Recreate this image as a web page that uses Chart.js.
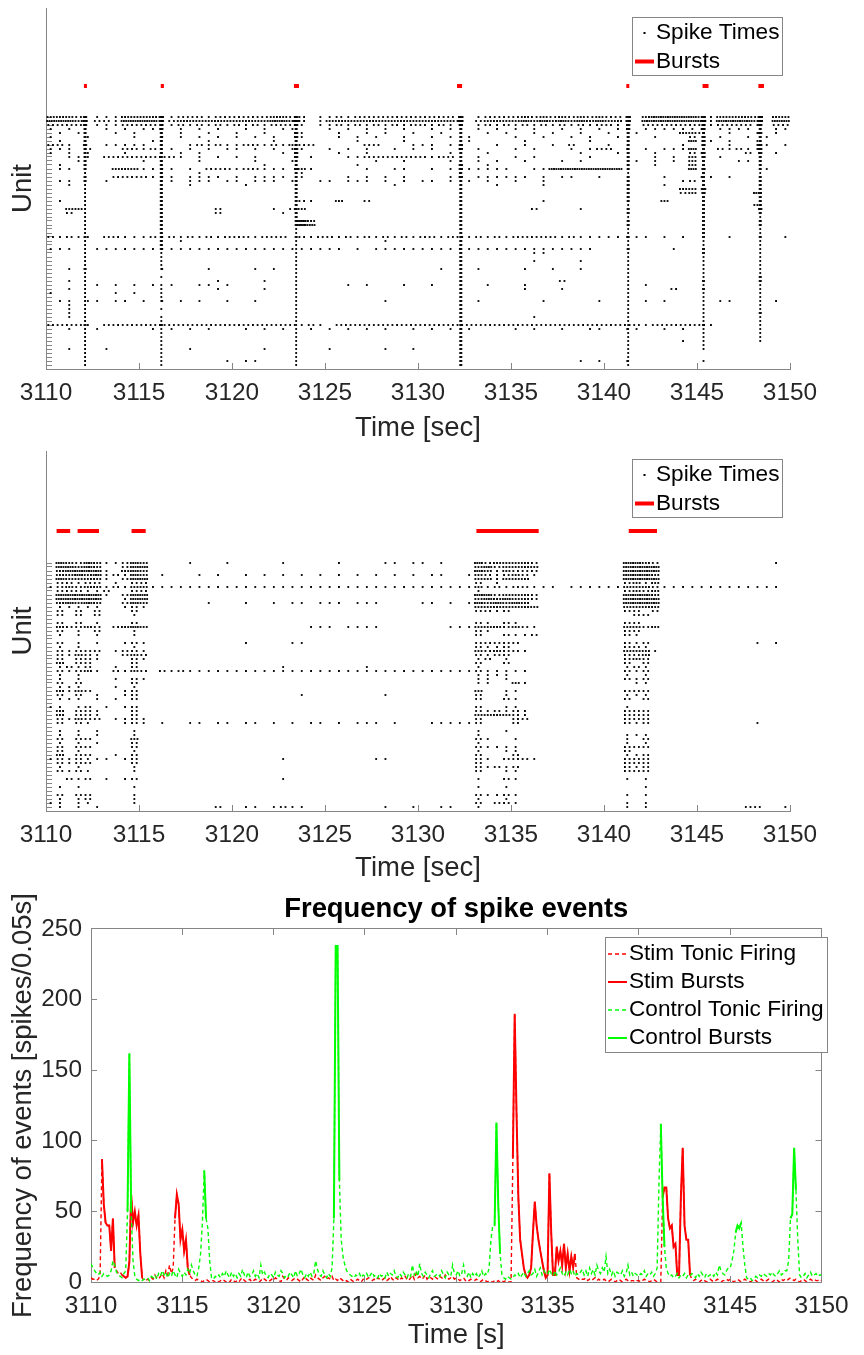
<!DOCTYPE html>
<html>
<head>
<meta charset="utf-8">
<script src="https://cdn.jsdelivr.net/npm/chart.js@4.4.0/dist/chart.umd.min.js"></script>
<style>
  body { margin: 0; background: #fff; }
  canvas { position: absolute; left: 0; }
</style>
</head>
<body>
<canvas id="rasterTop" width="864" height="445" style="top:0"></canvas>
<canvas id="rasterMid" width="864" height="440" style="top:445px"></canvas>
<canvas id="freqChart" width="864" height="470" style="top:885px"></canvas>
<script>
// ---- raster data: one string per unit (top row first), spike counts per 0.5 s bin from 3110 s
const topRows = [
  "3332011133 3311222122 2222332201 1212222222 2222101222 2323232323 2200344444 3133332033",
  "4443022144 4412333333 3333443201 3333333333 3333202333 3434343434 3300444444 4144443044",
  "2222011122 2211212121 2121222101 1212121212 2121101212 1212121212 2100222222 2122221022",
  "1010001010 1100101010 0101011000 1010101010 0101001010 1010010101 0100111111 1011110011",
  "0101000101 0000100100 1001000100 0100101001 0010000101 0010100100 1001000033 2001001010",
  "1000100001 0010101010 1010100100 0101010010 0101010000 1001001010 0100010002 0010010100",
  "0100000000 0100000100 0000100000 0001000010 0000010000 0100000010 0000000004 0101001000",
  "2210001111 1000012121 1221213220 0000220001 1101000010 0100102000 1000000010 0001001101",
  "1110200022 1201010101 1010101100 1010100101 0100101000 1010001012 2010101114 0021211000",
  "1010100010 0000101000 0000010000 0100100000 0001000100 0000000100 0100010002 1000020010",
  "0011102222 2222101010 1010000010 0011222222 2122001000 1010000010 0000010103 0010000000",
  "0001000000 1000001000 0010001000 0000010010 0001001010 0100010100 0001010103 0000110000",
  "0100000000 0000000000 0001000000 0001000000 0000000100 0000000000 0000010003 0000000000",
  "0110000333 1111010222 1221110310 0000100110 0101011111 0011444444 4400000004 0000000100",
  "0000000000 0000001000 0000000100 0000000000 0000100000 0000000000 0000000000 0000000000",
  "0000000222 2111011110 1011110100 0010101010 0001101111 1101011001 0000001000 1101000000",
  "0110001000 0001011101 1011101001 1011101010 1101010100 1001000000 0000000012 0000000000",
  "0010000000 0000010000 0100000000 0000000100 0000000010 0001000000 0000001000 0000000000",
  "0000000000 0000000000 0000000000 0000000000 0000000000 0000000000 0000000033 0000000000",
  "0000000000 0000000000 0000000000 0000000000 0000000000 0000000000 0000000023 0000004000",
  "",
  "0100000000 0000000000 0000000210 0300200000 0000000000 0001000000 0000003000 0000000000",
  "0000000000 0000000000 0000000000 0000000000 0000000000 0000000000 0000000000 0000003000",
  "0033000000 0000000020 0000102300 0000000000 0000000000 0020000100 0000000000 0000000000",
  "0020000000 0000000020 0000010000 0000000000 0000000000 0000000000 0000000000 0000000000",
  "",
  "0000000000 0000000000 0000000730 0000000000 0000000000 0000000000 0000000000 0000000000",
  "0000000000 0000000000 0000000640 0000000000 0000000000 0000000000 0000000000 0000000000",
  "",
  "",
  "2121102211 1212121212 2212220212 2121212121 2212212121 2222212111 1111101010 0001000001",
  "0000000000 0000100000 0000000000 0000001000 0000000000 0000000000 0000000000 0000000000",
  "",
  "1110011111 1111111111 1111111111 1101011111 1111111111 1111111110 0000000100 0000000000",
  "0000000000 0000000000 0000000000 0000000000 0000000000 0011000000 0000000000 0000000000",
  "",
  "0000000000 0000000000 0000000000 0000000000 0000000000 0010000100 0000000000 0000000000",
  "",
  "0010000000 0010000100 0010100000 0000000000 0010001000 0100100100 0000000000 0000000000",
  "",
  "",
  "0010000000 0000000010 0001000000 0000000000 0000000000 0000020000 0000000000 0000000000",
  "0000010101 0101001101 0000000000 0010100010 0100000100 0100000000 0000100000 0000000000",
  "0010000000 0000000010 0001000000 0000000000 0000000000 0100010000 0000000200 0000000000",
  "1000000101 0000000000 0000000000 0000000000 0000000000 0000000000 0000000000 0000000000",
  "",
  "0110110110 1010101001 0010000000 0000001000 0000001000 0001000001 0000101000 0011000010",
  "0010000000 0000000000 0000000000 0000000000 0000000000 0000000000 0000000000 0000000000",
  "0010000000 0000000000 0000000000 0000000000 0000000000 0000000000 0000000000 0000000000",
  "0010000000 0000000000 0000000000 0000000000 0000000000 0000000000 0000000000 0000000000",
  "0010000000 0000000000 0000000000 0000000000 0000000000 0010000000 0000000000 0000000000",
  "",
  "2222102222 2222222222 2222222121 0222222222 2222222222 2222222222 2222122222 2100000000",
  "0010010000 0101010100 0101010010 1010101001 0101010000 1010010011 0011001010 0000000000",
  "",
  "",
  "0000000000 0000000000 0000000000 0000000000 0000000000 0000000000 0000000010 0000000000",
  "",
  "0010001000 0000010000 0001000000 1000001001 0000000000 0000000000 0000000000 0000000000",
  "",
  "",
  "0000000000 0000000001 0110000000 0000000000 0000000000 0000000101 0010000000 0000000000",
  ""
];
// spikes of each unit inside the short network bursts of the top raster
const topBurstCenters = [3112.1, 3116.2, 3123.45, 3132.3, 3141.3, 3145.35, 3148.4];
const topBurstCounts = [
  "3434434", "4454444", "3333333", "2322332", "2232223", "2232232", "2222232", "3223233",
  "2233223", "2232233", "2232232", "2222222", "2223222", "2233232", "1222121", "2223222",
  "2222222", "1222222", "1222242", "1222232", "1222222", "1222222", "1222122", "1222223",
  "1222222", "1222121", "1222222", "1222222", "1212121", "1212121", "2222222", "1212111",
  "1212111", "1212221", "1112121", "1112111", "1112111", "1112111", "2112111", "1012111",
  "1112112", "1012122", "1112111", "1112121", "1112111", "1112111", "1112111", "1012111",
  "1112111", "1012112", "1112111", "1112111", "2212121", "1112111", "1112111", "1112111",
  "1112111", "1112110", "1112110", "1112100", "1112100", "1112110", "1112100"
];
// control bursts [start, end] in s
const topBurstBars = [[3112.04, 3112.2], [3116.17, 3116.34], [3123.33, 3123.6], [3132.1, 3132.37],
                      [3141.2, 3141.36], [3145.3, 3145.62], [3148.3, 3148.6]];

const midRows = [
  "0432431124 3000010001 0000010000 0100001101 1010004233 3320000000 0044320000 0000000010",
  "0443430024 4000000000 0000000000 0000000000 0000003423 3330000000 0044440000 0000000000",
  "0344441034 3000000000 0000000000 0000000000 0000004313 2220000000 0044440000 0000000000",
  "0334341214 3010001010 0101010101 0101010101 0110013212 3210000000 0044430000 0000000000",
  "0433331024 4000000000 0000000000 0000000000 0000003313 3300000000 0044440000 0000000000",
  "0221220102 2000000000 0000000000 0000000000 0000002010 0000000000 0023130000 0000000000",
  "1232331213 3111111111 1111111111 1111111111 1111113121 2211101111 1133321111 1111111110",
  "0222112002 2000000000 0000000000 0000000000 0000001000 0000000000 0023230000 0000000000",
  "0444441024 4000000000 0000000000 0000000000 0000004423 3320000000 0044430000 0000000000",
  "0444440014 4000000000 0000000000 0000000000 0000003434 3320000000 0044440000 0000000000",
  "0343430024 3000000100 0100101101 1101110000 1101014343 4300000000 0044440000 0000000000",
  "0111110012 1000000000 0000000000 0000000000 0000003333 3330000000 0033330000 0000000000",
  "0202020002 0000000000 0000000000 0000000000 0000002212 0000000000 0022020000 0000000000",
  "0202020001 0000000000 0000000000 0000000000 0000000000 0000000000 0002200000 0000000000",
  "",
  "0202010002 0000000000 0000000000 0000000000 0000002102 1000000000 0022000000 0000000000",
  "0322320234 3000000000 0000000011 1011110000 0001113332 3210000000 0033230000 0000000000",
  "0201020001 0000000000 0000000000 0000000000 0000002100 0000000000 0022000000 0000000000",
  "0101010001 0000000000 0000000000 0000000000 0000002002 1120000000 0021000000 0000000000",
  "",
  "0201010012 1000000000 0100001100 0000000000 0000002222 2000000000 0021200000 0000001010",
  "0101000001 0000000000 0000000000 0000000000 0000002112 0000000000 0022100000 0000000000",
  "0212220122 1000000000 0000000000 0000000000 0000003232 2100000000 0033310000 0000000000",
  "0213210023 2000000000 0000000000 0000000000 0000002122 0000000000 0022300000 0000000000",
  "0202210002 1000000000 0000000000 0000000000 0000001201 0000000000 0023200000 0000000000",
  "0302200002 0000000000 0000000000 0000000000 0000002002 0000000000 0020200000 0000000000",
  "0121200102 0000000000 0000010000 0000100000 0000001000 0000000000 0012100000 0000000000",
  "0212310213 2021211111 1111111111 1111111111 1111112111 1100000000 0021200000 0000000000",
  "0101000000 0000000000 0000000000 0000000000 0000001111 0000000000 0010100000 0000000000",
  "0101000102 1000000000 0000000000 0000000000 0000001101 0000000000 0021200000 0000000000",
  "0202000002 0000000000 0000000000 0000000000 0000001100 3100000000 0001100000 0000000000",
  "0111000101 0000000000 0000000000 0000000000 0000000000 0000000000 0000000000 0000000000",
  "0313200012 0000000000 0000000000 0000000000 0000003001 1000000000 0022200000 0000000000",
  "0202010012 0000000000 0000000100 0000001000 0000002001 0000000000 0011100000 0000000000",
  "0111010102 0000000000 0000000000 0000000000 0000002002 1000000000 0020200000 0000000000",
  "",
  "1101201012 0000000000 0000000000 0000000000 0000002001 1000000000 0010000000 0000000000",
  "0302210002 0000000000 0000000000 0000000000 0000002121 2100000000 0022200000 0000000000",
  "0302210002 0000000000 0000000000 0000000000 0000003333 2100000000 0022200000 0000000000",
  "0213220112 1000000000 0000000000 0000000000 0000002000 2200000000 0022200000 0000000000",
  "0202100012 1010011011 0110101011 0101110100 0111112000 2000000000 0021200000 0000001000",
  "",
  "0101010001 0000000000 0000000000 0000000000 0000001001 0000000000 0000000000 0000000000",
  "0101010001 0000000000 0000000000 0000000000 0000001000 0000000000 0011100000 0000000000",
  "0202200003 0000000000 0000000000 0000000000 0000002100 1000000000 0010200000 0000000000",
  "0101010002 0000000000 0000000000 0000000000 0000001000 0000000000 0010100000 0000000000",
  "0202200002 0000000000 0000000000 0000000000 0000002111 1000000000 0022200000 0000000000",
  "0201000001 0000000000 0000000000 0000000000 0000001001 1000000000 0020000000 0000000000",
  "0302200102 0000000000 0000000000 0000000000 0000002000 2000000000 0011200000 0000000000",
  "1212111012 0000000000 0000010000 0000011000 0000002102 2210000000 0022200000 0000000000",
  "0212200002 0000000000 0000000000 0000000000 0000002000 0000000000 0022200000 0000000000",
  "0101000001 0000000000 0000000000 0000000000 0000002121 2000000000 0021200000 0000000000",
  "0212100001 0000000000 0000000000 0000000000 0000002001 1000000000 0022200000 0000000000",
  "",
  "0021201012 0000000000 0000010000 0000000000 0000001002 1000000000 0010100000 0000000000",
  "",
  "0101000001 0000000000 0000000000 0000000000 0000001001 0000000000 0000100000 0000000000",
  "",
  "0202200001 0000000000 0000000000 0000000000 0000002112 1000000000 0010100000 0000000000",
  "0101200001 0000000000 0000000000 0000000000 0000001001 0000000000 0000000000 0000000000",
  "1101100001 0000000000 0000000000 0000000000 0000002022 1000000000 0010100000 0000000000",
  "0101010000 0000000020 0110121100 0000001001 0011001000 0000000000 0010100000 0000022001"
];
// stim bursts [start, end] in s
const midBurstBars = [[3110.57, 3111.3], [3111.7, 3112.85], [3114.6, 3115.36], [3133.14, 3136.49], [3141.33, 3142.85]];

// ---- frequency of spike events, one value per 0.1 s from 3110 to 3150
const stimFreq = [
  3, 2, 2, 1, 2, 5, 87, 55, 42, 40,
  40, 22, 45, 10, 8, 6, 7, 5, 4, 3,
  4, 14, 62, 42, 50, 40, 47, 20, 3, 1,
  1, 2, 1, 3, 2, 5, 3, 2, 4, 6,
  3, 8, 5, 12, 6, 10, 45, 62, 55, 30,
  37, 22, 30, 10, 5, 3, 2, 1, 2, 1,
  1, 0, 1, 2, 1, 0, 1, 1, 0, 1,
  0, 1, 2, 1, 0, 1, 0, 2, 1, 0,
  1, 0, 2, 3, 1, 0, 1, 2, 0, 1,
  2, 1, 0, 1, 3, 2, 1, 0, 1, 2,
  1, 3, 2, 1, 0, 4, 2, 1, 3, 2,
  1, 2, 3, 2, 1, 0, 2, 4, 2, 1,
  3, 2, 1, 5, 3, 2, 1, 3, 4, 2,
  3, 2, 4, 1, 2, 1, 3, 2, 1, 0,
  1, 0, 2, 1, 0, 1, 2, 1, 0, 2,
  1, 2, 3, 2, 1, 2, 1, 3, 2, 1,
  2, 3, 1, 2, 4, 2, 1, 3, 2, 1,
  3, 2, 4, 2, 1, 3, 5, 2, 6, 3,
  4, 2, 3, 5, 2, 4, 3, 2, 4, 3,
  2, 4, 3, 2, 5, 3, 2, 3, 4, 2,
  3, 2, 1, 2, 3, 1, 2, 1, 2, 1,
  1, 2, 1, 0, 1, 2, 1, 0, 1, 0,
  0, 1, 0, 1, 0, 1, 0, 1, 0, 0,
  0, 88, 190, 120, 60, 30, 20, 10, 5, 3,
  5, 10, 35, 57, 40, 30, 22, 15, 8, 3,
  5, 77, 35, 5, 5, 25, 15, 22, 12, 27,
  10, 20, 8, 18, 10, 20, 3, 2, 1, 2,
  2, 3, 1, 2, 1, 2, 3, 1, 2, 1,
  1, 2, 1, 0, 1, 2, 1, 0, 1, 2,
  1, 0, 1, 2, 1, 0, 1, 1, 0, 1,
  1, 0, 1, 2, 1, 1, 0, 1, 2, 1,
  0, 0, 0, 60, 67, 67, 45, 38, 40, 25,
  27, 5, 5, 60, 95, 40, 30, 30, 5, 2,
  1, 2, 1, 0, 1, 2, 1, 0, 1, 2,
  1, 0, 1, 2, 1, 0, 1, 1, 2, 1,
  2, 1, 0, 1, 2, 1, 0, 1, 2, 1,
  1, 0, 1, 2, 1, 0, 1, 2, 1, 0,
  1, 2, 1, 0, 1, 2, 1, 0, 2, 1,
  2, 1, 2, 3, 2, 1, 2, 1, 0, 1,
  2, 1, 0, 1, 2, 1, 2, 1, 1, 2,
  1
];
const controlFreq = [
  13, 10, 8, 6, 5, 7, 4, 6, 5, 4,
  5, 8, 15, 12, 7, 5, 4, 3, 6, 8,
  50, 162, 50, 15, 4, 2, 1, 2, 1, 2,
  2, 3, 1, 4, 3, 5, 2, 6, 4, 8,
  5, 7, 3, 6, 4, 8, 5, 3, 9, 6,
  4, 7, 5, 9, 6, 12, 8, 5, 4, 10,
  20, 42, 79, 45, 38, 15, 3, 2, 4, 3,
  5, 3, 6, 4, 8, 5, 3, 7, 4, 6,
  3, 6, 4, 9, 5, 3, 7, 4, 5, 8,
  4, 6, 3, 12, 5, 7, 4, 3, 6, 5,
  3, 7, 5, 4, 8, 6, 3, 5, 4, 7,
  5, 3, 8, 4, 6, 9, 5, 3, 6, 4,
  7, 4, 6, 15, 9, 5, 4, 8, 5, 3,
  6, 4, 10, 45, 238, 238, 72, 30, 18, 12,
  8, 6, 5, 4, 3, 5, 4, 6, 3, 5,
  4, 6, 3, 5, 7, 4, 5, 3, 6, 4,
  5, 3, 7, 4, 6, 5, 8, 4, 3, 6,
  4, 7, 5, 3, 6, 4, 12, 5, 8, 4,
  13, 6, 4, 7, 5, 3, 6, 8, 4, 5,
  6, 4, 8, 5, 3, 7, 5, 4, 12, 6,
  5, 8, 4, 6, 12, 5, 4, 7, 3, 6,
  4, 6, 3, 5, 8, 4, 6, 5, 10, 30,
  40, 40, 113, 55, 20, 5, 3, 2, 4, 3,
  2, 3, 5, 4, 6, 3, 5, 7, 4, 6,
  8, 5, 6, 9, 4, 7, 10, 5, 8, 6,
  5, 9, 6, 4, 8, 5, 7, 10, 6, 4,
  7, 5, 9, 6, 8, 4, 6, 5, 7, 9,
  5, 8, 4, 10, 6, 9, 5, 12, 8, 6,
  10, 7, 18, 6, 9, 5, 8, 4, 7, 6,
  5, 8, 4, 6, 12, 5, 7, 4, 6, 5,
  4, 6, 5, 8, 4, 6, 5, 7, 4, 6,
  10, 70, 112, 60, 25, 10, 6, 4, 5, 3,
  4, 6, 3, 5, 4, 6, 3, 5, 4, 6,
  5, 3, 6, 4, 7, 5, 3, 6, 4, 5,
  6, 4, 7, 5, 12, 8, 6, 5, 8, 10,
  10, 15, 22, 35, 40, 38, 42, 25, 12, 3,
  2, 3, 1, 2, 4, 3, 5, 4, 6, 5,
  4, 6, 5, 7, 5, 4, 6, 8, 5, 6,
  8, 8, 15, 45, 48, 95, 65, 30, 5, 3,
  4, 6, 3, 5, 7, 4, 5, 6, 4, 5,
  5
];

const xTicks = [3110, 3115, 3120, 3125, 3130, 3135, 3140, 3145, 3150];

// ---- helpers
const T0 = 3110, BIN = 0.5, COL_STEP = 0.065, FREQ_STEP = 0.1;
const AXIS = '#858585', TXT = '#262626';
const FONT = '"Liberation Sans", Arial, Helvetica, sans-serif';
const TICK_SIZE = 24.4, LABEL_SIZE = 27.5, LEGEND_SIZE = 22.6;
Chart.defaults.font.family = FONT;

[...topRows, ...midRows].forEach((r, i) => {
  const s = r.replace(/ /g, '');
  if (s && s.length !== 80) throw new Error('raster row ' + i + ' has ' + s.length + ' bins');
});
if (stimFreq.length !== 401 || controlFreq.length !== 401)
  throw new Error('freq lengths ' + stimFreq.length + ' ' + controlFreq.length);

function spikePoints(rows, nUnits, centers, counts) {
  const pts = [];
  rows.forEach((row, i) => {
    const u = nUnits - i;
    const bins = row.replace(/ /g, '');
    for (let b = 0; b < bins.length; b++) {
      const n = Number(bins[b]);
      for (let k = 0; k < n; k++) pts.push({x: T0 + BIN * (b + (k + 0.5) / n), y: u});
    }
    if (counts) {
      for (let j = 0; j < centers.length; j++) {
        const n = Number(counts[i][j]);
        for (let k = 0; k < n; k++) pts.push({x: centers[j] + (k - (n - 1) / 2) * COL_STEP, y: u});
      }
    }
  });
  return pts;
}

function barPoints(bars, y) {
  const d = [];
  bars.forEach(([a, b]) => { d.push({x: a, y: y}, {x: b, y: y}, {x: b, y: null}); });
  return d;
}

function freqPoints(values, windows) {
  return values.map((v, i) => {
    const t = +(T0 + i * FREQ_STEP).toFixed(2);
    if (!windows) return {x: t, y: v};
    const inside = windows.some(([a, b]) => t >= a - 0.049 && t <= b + 0.049);
    return {x: t, y: inside ? v : null};
  });
}

// legend drawn in a box inside the plot, like the original figure
const boxLegend = {
  id: 'boxLegend',
  afterDraw(chart, args, o) {
    if (!o || !o.box) return;
    const ctx = chart.ctx;
    const [bx, by, bw, bh] = o.box;
    ctx.save();
    ctx.fillStyle = '#fff';
    ctx.fillRect(bx, by, bw, bh);
    ctx.strokeStyle = AXIS;
    ctx.lineWidth = 1;
    ctx.strokeRect(bx + 0.5, by + 0.5, bw, bh);
    ctx.font = LEGEND_SIZE + 'px ' + FONT;
    ctx.textBaseline = 'middle';
    chart.data.datasets.forEach((ds, i) => {
      const y = o.rows[i];
      if (ds.showLine === false) {
        ctx.fillStyle = ds.backgroundColor;
        ctx.fillRect(o.dotX - 1, y - 1, 2, 2);
      } else {
        ctx.strokeStyle = ds.borderColor;
        ctx.lineWidth = ds.borderWidth;
        ctx.setLineDash(ds.borderDash || []);
        ctx.beginPath();
        ctx.moveTo(o.sample[0], y);
        ctx.lineTo(o.sample[1], y);
        ctx.stroke();
        ctx.setLineDash([]);
      }
      ctx.fillStyle = '#000';
      ctx.fillText(ds.label, o.textX, y);
    });
    ctx.restore();
  }
};

const tickPad = 24 - TICK_SIZE * 0.6 + 6;
const titleHalf = LABEL_SIZE * 0.6;

function rasterChart(id, rows, nUnits, yMax, barY, bars, centers, counts, pad, legend) {
  const units = [];
  for (let u = 1; u <= nUnits; u++) units.push({value: u});
  return new Chart(document.getElementById(id), {
    type: 'scatter',
    data: {
      datasets: [
        {label: 'Spike Times', data: spikePoints(rows, nUnits, centers, counts), showLine: false,
         backgroundColor: '#000', borderWidth: 0, pointStyle: 'rect', pointRadius: 1.3, pointHoverRadius: 1.3},
        {label: 'Bursts', data: barPoints(bars, barY), showLine: true, borderColor: '#ff0000',
         backgroundColor: '#ff0000', borderWidth: 4, borderCapStyle: 'butt', pointRadius: 0, spanGaps: false}
      ]
    },
    options: {
      responsive: false, animation: false, devicePixelRatio: 1,
      layout: {padding: {top: pad.top, right: 74, bottom: 0, left: 0}},
      plugins: {legend: {display: false}, tooltip: {enabled: false}, boxLegend: legend},
      scales: {
        x: {
          type: 'linear', min: 3110, max: 3150,
          border: {color: AXIS},
          grid: {drawOnChartArea: false, tickLength: -6, color: AXIS},
          afterBuildTicks: s => { s.ticks = xTicks.map(v => ({value: v})); },
          ticks: {color: TXT, font: {size: TICK_SIZE}, padding: tickPad, autoSkip: false, maxRotation: 0,
                  callback: v => String(v)},
          title: {display: true, text: 'Time [sec]', color: TXT, font: {size: LABEL_SIZE},
                  padding: {top: 0, bottom: pad.titleBottom}},
          afterFit: s => { s.height = pad.xHeight; }
        },
        y: {
          type: 'linear', min: 0, max: yMax,
          border: {color: AXIS},
          grid: {drawOnChartArea: false, tickLength: -6, color: AXIS},
          afterBuildTicks: s => { s.ticks = units.slice(); },
          ticks: {display: false},
          title: {display: true, text: 'Unit', color: TXT, font: {size: LABEL_SIZE},
                  padding: {top: 23 - titleHalf, bottom: 0}},
          afterFit: s => { s.width = 46; }
        }
      }
    },
    plugins: [boxLegend]
  });
}

rasterChart('rasterTop', topRows, 63, 90.25, 70.75, topBurstBars, topBurstCenters, topBurstCounts,
  {top: 8, xHeight: 76, titleBottom: 445 - 428 - titleHalf},
  {box: [632, 17, 150, 58], rows: [33, 61.5], dotX: 644.5, sample: [635, 654], textX: 656});

rasterChart('rasterMid', midRows, 62, 90, 70, midBurstBars, null, null,
  {top: 6, xHeight: 74, titleBottom: 0},
  {box: [632, 14, 150, 58], rows: [30, 58.5], dotX: 644.5, sample: [635, 654], textX: 656});

new Chart(document.getElementById('freqChart'), {
  type: 'line',
  data: {
    datasets: [
      {label: 'Stim Tonic Firing', data: freqPoints(stimFreq), borderColor: '#ff0000', borderWidth: 1.4,
       borderDash: [4, 3], pointRadius: 0, order: 4},
      {label: 'Stim Bursts', data: freqPoints(stimFreq, midBurstBars), borderColor: '#ff0000', borderWidth: 2,
       pointRadius: 0, spanGaps: false, order: 3},
      {label: 'Control Tonic Firing', data: freqPoints(controlFreq), borderColor: '#00ff00', borderWidth: 1.4,
       borderDash: [4, 3], pointRadius: 0, order: 2},
      {label: 'Control Bursts', data: freqPoints(controlFreq, topBurstBars), borderColor: '#00ff00', borderWidth: 2,
       pointRadius: 0, spanGaps: false, order: 1}
    ]
  },
  options: {
    responsive: false, animation: false, devicePixelRatio: 1,
    layout: {padding: {top: 0, right: 29, bottom: 0, left: 0}},
    plugins: {
      legend: {display: false}, tooltip: {enabled: false},
      title: {display: true, fullSize: false, text: 'Frequency of spike events', color: '#000',
              font: {size: 27.4, weight: 'bold'}, padding: {top: 7.6, bottom: 3.5}},
      boxLegend: {box: [605, 52, 222, 115], rows: [69, 97, 125, 153], sample: [608, 627], textX: 629}
    },
    scales: {
      x: {
        type: 'linear', min: 3110, max: 3150,
        border: {color: AXIS},
        grid: {drawOnChartArea: false, tickLength: -6, color: AXIS},
        afterBuildTicks: s => { s.ticks = xTicks.map(v => ({value: v})); },
        ticks: {color: TXT, font: {size: TICK_SIZE}, padding: tickPad, autoSkip: false, maxRotation: 0,
                callback: v => String(v)},
        title: {display: true, text: 'Time [s]', color: TXT, font: {size: LABEL_SIZE},
                padding: {top: 0, bottom: 470 - 450 - titleHalf}},
        afterFit: s => { s.height = 73; }
      },
      x2: {
        type: 'linear', position: 'top', min: 3110, max: 3150,
        border: {color: AXIS},
        grid: {drawOnChartArea: false, tickLength: -6, color: AXIS},
        afterBuildTicks: s => { s.ticks = xTicks.map(v => ({value: v})); },
        ticks: {display: false},
        afterFit: s => { s.height = 0; }
      },
      y: {
        type: 'linear', min: 0, max: 250,
        border: {color: AXIS},
        grid: {drawOnChartArea: false, tickLength: -6, color: AXIS},
        ticks: {stepSize: 50, color: TXT, font: {size: TICK_SIZE}, padding: 15},
        title: {display: true, text: 'Frequency of events [spikes/0.05s]', color: TXT, font: {size: LABEL_SIZE},
                padding: {top: 23 - titleHalf, bottom: 0}},
        afterFit: s => { s.width = 91; }
      },
      y2: {
        type: 'linear', position: 'right', min: 0, max: 250,
        border: {color: AXIS},
        grid: {drawOnChartArea: false, tickLength: -6, color: AXIS},
        ticks: {display: false, stepSize: 50},
        afterFit: s => { s.width = 0; }
      }
    }
  },
  plugins: [boxLegend]
});
</script>
</body>
</html>
